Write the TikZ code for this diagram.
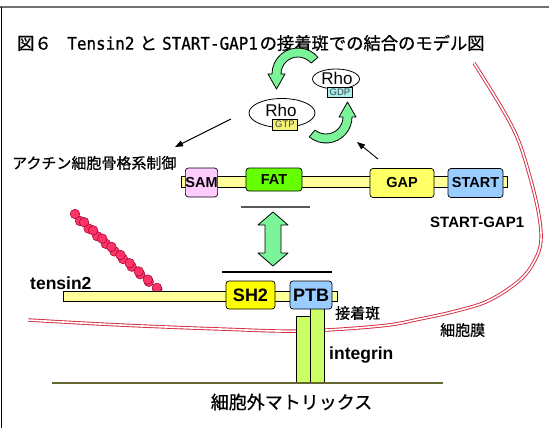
\documentclass[tikz,border=0pt]{standalone}
\usepackage{graphicx}
\usepackage{fontspec}
\setmainfont{Liberation Sans}
\newfontfamily\jp[FakeBold=0.8]{Noto Sans CJK JP}
\newfontfamily\monolat[FakeBold=0.8]{DejaVu Sans Mono}
\usetikzlibrary{calc,arrows.meta,shapes.geometric}

\definecolor{barY}{HTML}{FFFF99}
\definecolor{samP}{HTML}{FFCCFF}
\definecolor{fatG}{HTML}{66FF00}
\definecolor{gapY}{HTML}{FFFF66}
\definecolor{startB}{HTML}{99CCFF}
\definecolor{sh2Y}{HTML}{FFFF00}
\definecolor{intG}{HTML}{CCFF66}
\definecolor{arrowG}{HTML}{7CF59A}
\definecolor{gtpY}{HTML}{F2F27A}
\definecolor{gdpC}{HTML}{A8F0F0}
\definecolor{beadR}{HTML}{FF3366}
\definecolor{beadD}{HTML}{990033}
\definecolor{memR}{HTML}{D42A3C}
\definecolor{ecmO}{HTML}{666633}
\definecolor{frameG}{HTML}{707070}

\newcommand\ttl[1]{\scalebox{0.92}[1]{\monolat #1}}

\begin{document}
\begin{tikzpicture}[x=1pt,y=-1pt,
  dom/.style={draw=black,line width=0.7pt,rounded corners=3pt,inner sep=0pt,
    font=\bfseries\fontsize{14.5}{14.5}\selectfont},
  barbox/.style={draw=black,line width=0.6pt,fill=barY,inner sep=0pt},
  jlabel/.style={font=\jp\fontsize{15}{15}\selectfont,inner sep=0pt},
  elabel/.style={font=\bfseries\fontsize{15}{15}\selectfont,inner sep=0pt},
  rho/.style={ellipse,draw=black,line width=0.8pt,fill=white,inner sep=0pt},
  rhotext/.style={inner sep=0pt,font=\fontsize{17}{17}\selectfont},
  tag/.style={draw=black,line width=0.5pt,inner sep=0pt,
    font=\fontsize{9.5}{9.5}\selectfont,text=black!75},
  greenarrow/.style={fill=arrowG,draw=black,line width=0.8pt,line join=round},
  thinarrow/.style={line width=0.9pt,-{Triangle[length=8pt,width=6pt]}},
  bead/.style={circle,fill=beadR,draw=beadD,line width=0.5pt,minimum size=9.6pt,inner sep=0pt},
  membrane/.style={draw=memR,line width=0.9pt,double=white,double distance=1.6pt},
  intbar/.style={draw=black,fill=intG,line width=0.7pt,inner sep=0pt},
  ]
\useasboundingbox (0,0) rectangle (549,428);
\fill[white] (0,0) rectangle (549,428);

% frame
\draw[frameG,line width=2pt] (0,7) -- (549,7);
\draw[black,line width=1.4pt] (1.2,7) -- (1.2,428);

% title
\node[anchor=west,inner sep=0pt,font=\jp\fontsize{17.3}{20}\selectfont] (title) at (17,43)
  {図６\hspace{0.9em}\ttl{Tensin2}\hspace{0.3em}と\hspace{0.3em}\ttl{START-GAP1}\hspace{0.1em}の接着斑での結合のモデル図};

% cell membrane
\draw[membrane] plot[smooth,tension=0.6] coordinates
  {(28,320) (120,325) (220,329) (300,331) (380,326) (420,319) (460,310) (490,300)
   (520,280) (535,260) (541,240) (538,210) (528,170) (517,137) (500,105) (474,63)};

% Rho cycle arrows
\coordinate (c1) at (298,74);
\draw[greenarrow] ($(c1)+(-40:26)$) arc[start angle=-40,end angle=-180,radius=26]
  -- ($(c1)+(-180:30)$) -- ($(c1)+(-180:21.5)+(0,15)$) -- ($(c1)+(-180:13)$)
  -- ($(c1)+(-180:17)$) arc[start angle=-180,end angle=-40,radius=17] -- cycle;
\coordinate (c2) at (326,117);
\draw[greenarrow] ($(c2)+(130:26)$) arc[start angle=130,end angle=0,radius=26]
  -- ($(c2)+(0:30)$) -- ($(c2)+(0:21.5)+(0,-15)$) -- ($(c2)+(0:13)$)
  -- ($(c2)+(0:17)$) arc[start angle=0,end angle=130,radius=17] -- cycle;

% Rho-GTP and Rho-GDP
\node[rho,minimum width=66pt,minimum height=29pt] (rgtp) at (282,113) {};
\node[rhotext] (rgtpt) at (281,110) {Rho};
\node[tag,fill=gtpY,minimum width=25pt,minimum height=11pt] (gtp) at (285,124.5) {GTP};
\node[rho,minimum width=47pt,minimum height=20pt] (rgdp) at (336,79) {};
\node[rhotext] (rgdpt) at (337,78) {Rho};
\node[tag,fill=gdpC,minimum width=25pt,minimum height=10pt] (gdp) at (340,92.5) {GDP};

% signalling arrows
\coordinate (a1s) at (231,119);
\coordinate (a1e) at (175,147);
\draw[thinarrow] (a1s) -- (a1e);
\coordinate (a2s) at (378,159);
\coordinate (a2e) at (357,142);
\draw[thinarrow] (a2s) -- (a2e);
\node[jlabel,anchor=west] (actin) at (12,163) {アクチン細胞骨格系制御};

% START-GAP1
\node[barbox,minimum width=326pt,minimum height=11pt] (sgbar) at (344,181.5) {};
\node[dom,fill=samP,minimum width=31pt,minimum height=29pt] (sam) at (201.5,182.5) {SAM};
\node[dom,fill=fatG,minimum width=56pt,minimum height=23pt] (fat) at (274,179.5) {FAT};
\node[dom,fill=gapY,minimum width=64pt,minimum height=29pt] (gap) at (402,183) {GAP};
\node[dom,fill=startB,minimum width=55pt,minimum height=29pt] (start) at (475.5,183) {START};
\node[elabel,anchor=west] (sglabel) at (430,222) {START-GAP1};

% binding
\draw[black!65,line width=1.1pt] (241,207) -- (310,207);
\draw[greenarrow] (273,212) -- (288,225) -- (281,225) -- (281,253) -- (288,253) -- (273,266)
  -- (258,253) -- (265,253) -- (265,225) -- (258,225) -- cycle;
\draw[black,line width=1.1pt] (222,272) -- (332,272);

% actin filament
\foreach \i in {0,...,9}
  \node[bead] (bb\i) at ({80+8.6*\i},{221+7.6*\i}) {};
\foreach \i in {0,...,9}
  \node[bead] (bf\i) at ({75+9.1*\i},{214+8.2*\i}) {};

% integrin
\node[intbar,minimum width=13.5pt,minimum height=67pt] (intA) at (303.25,349.5) {};
\node[intbar,minimum width=14pt,minimum height=75pt] (intB) at (317,345.5) {};

% tensin2
\node[barbox,minimum width=274pt,minimum height=10pt] (tnbar) at (200,296) {};
\node[dom,fill=sh2Y,minimum width=49pt,minimum height=28pt,font=\bfseries\fontsize{18}{18}\selectfont] (sh2) at (250.5,295) {SH2};
\node[dom,fill=startB,minimum width=42pt,minimum height=28pt,font=\bfseries\fontsize{18}{18}\selectfont] (ptb) at (311,295) {PTB};
\node[elabel,anchor=west,font=\bfseries\fontsize{17.5}{17.5}\selectfont] (tnlabel) at (30,283) {tensin2};

% labels
\node[jlabel,anchor=west] (fa) at (335,313) {接着斑};
\node[jlabel,anchor=west] (pm) at (440,330) {細胞膜};
\node[elabel,anchor=west,font=\bfseries\fontsize{17.5}{17.5}\selectfont] (intlabel) at (329,355) {integrin};

% extracellular matrix
\coordinate (ecmL) at (52,383);
\coordinate (ecmR) at (443,383);
\draw[ecmO,line width=2pt] (ecmL) -- (ecmR);
\node[inner sep=0pt,font=\jp\fontsize{18}{18}\selectfont] (ecm) at (291.5,402) {細胞外マトリックス};
\end{tikzpicture}
\end{document}
